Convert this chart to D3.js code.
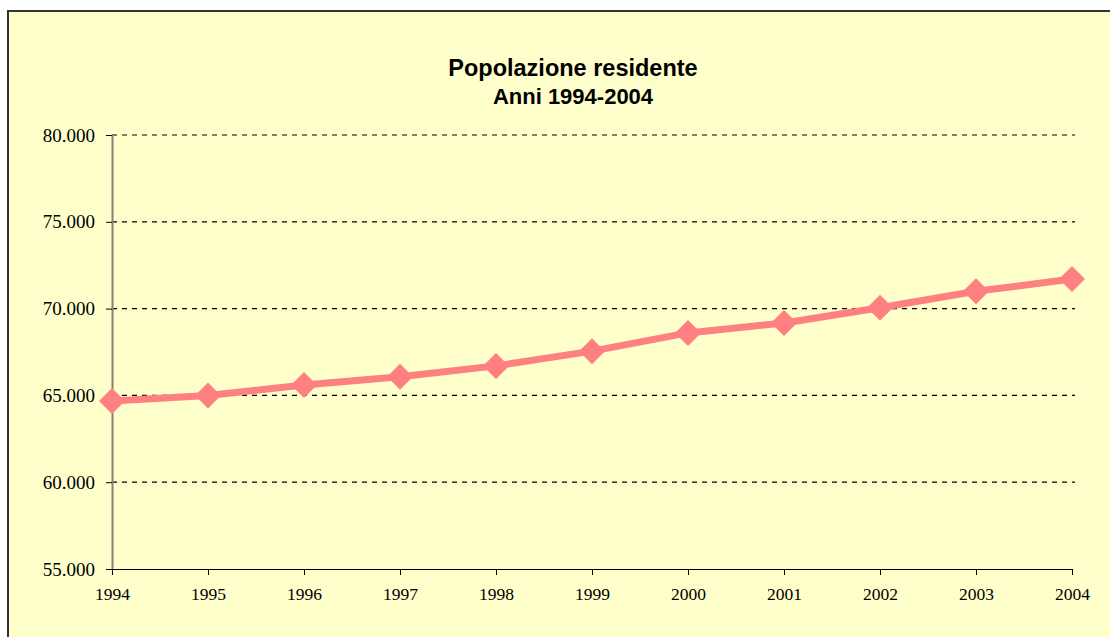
<!DOCTYPE html>
<html>
<head>
<meta charset="utf-8">
<script src="https://cdn.jsdelivr.net/npm/d3@7"></script>
<style>
  body { margin: 0; background: #ffffff; }
  .tick text { font-family: "Liberation Serif", "Times New Roman", serif; fill: #000; }
</style>
</head>
<body>
<div id="chart"></div>
<script>
// Define svg width and height
var svgWidth = 1110;
var svgHeight = 637;

// chart data
var years = [1994, 1995, 1996, 1997, 1998, 1999, 2000, 2001, 2002, 2003, 2004];
var population = [64680, 65000, 65600, 66080, 66700, 67550, 68600, 69170, 70050, 71000, 71700];
var yTicks = [55000, 60000, 65000, 70000, 75000, 80000];
var titleLines = ["Popolazione residente", "Anni 1994-2004"];

// plot area
var margin = { top: 135, right: 38, bottom: 68, left: 112 };
var width = svgWidth - margin.left - margin.right;
var height = svgHeight - margin.top - margin.bottom;

var svg = d3.select("#chart")
  .append("svg")
  .attr("width", svgWidth)
  .attr("height", svgHeight);

// background with border (cropped at right / bottom)
svg.append("rect")
  .attr("x", 8)
  .attr("y", 11)
  .attr("width", svgWidth + 10)
  .attr("height", svgHeight + 10)
  .attr("fill", "#ffffcc")
  .attr("stroke", "#333333")
  .attr("stroke-width", 2);

// title
svg.append("g").selectAll("text")
  .data(titleLines)
  .enter()
  .append("text")
  .attr("x", 573)
  .attr("y", (d, i) => i === 0 ? 76 : 104)
  .attr("text-anchor", "middle")
  .style("font-family", "'Liberation Sans', Arial, sans-serif")
  .style("font-weight", "bold")
  .style("font-size", (d, i) => i === 0 ? "23.5px" : "22px")
  .text(d => d);

var chartGroup = svg.append("g")
  .attr("transform", `translate(${margin.left}, ${margin.top})`);

// scales
var xScale = d3.scaleLinear()
  .domain([d3.min(years), d3.max(years)])
  .range([0, width]);

var yScale = d3.scaleLinear()
  .domain([55000, 80000])
  .range([height, 0]);

var fmt = d3.formatLocale({ decimal: ",", thousands: ".", grouping: [3], currency: ["", "€"] }).format(",");

// gridlines
chartGroup.append("g")
  .selectAll("line")
  .data(yTicks.filter(d => d > 55000))
  .enter()
  .append("line")
  .attr("x1", 0)
  .attr("x2", width + 3)
  .attr("y1", d => yScale(d))
  .attr("y2", d => yScale(d))
  .attr("stroke", "#000")
  .attr("stroke-width", 1.2)
  .attr("stroke-dasharray", "5,5");

// y axis
var leftAxis = d3.axisLeft(yScale)
  .tickValues(yTicks)
  .tickSize(6)
  .tickPadding(11)
  .tickFormat(fmt);

var yAxis = chartGroup.append("g")
  .call(leftAxis);
yAxis.select(".domain").attr("stroke", "#808080").attr("stroke-width", 2)
  .attr("d", `M0.5,0V${height}`);
yAxis.selectAll(".tick line").attr("stroke", "#000");
yAxis.selectAll(".tick text").style("font-size", "19px");

// x axis
var bottomAxis = d3.axisBottom(xScale)
  .tickValues(years)
  .tickSize(6)
  .tickPadding(13)
  .tickFormat(d3.format("d"));

var xAxis = chartGroup.append("g")
  .attr("transform", `translate(0, ${height})`)
  .call(bottomAxis);
xAxis.select(".domain").attr("stroke", "#000").attr("d", `M0,0.5H${width}`);
xAxis.selectAll(".tick line").attr("stroke", "#000");
xAxis.selectAll(".tick text").style("font-size", "17.5px");

// line
var line = d3.line()
  .x((d, i) => xScale(years[i]))
  .y(d => yScale(d));

chartGroup.append("path")
  .datum(population)
  .attr("d", line)
  .attr("fill", "none")
  .attr("stroke", "#ff8080")
  .attr("stroke-width", 7)
  .attr("stroke-linejoin", "round");

// diamond markers
var diamond = d3.symbol().type(d3.symbolSquare).size(338);

chartGroup.selectAll(null)
  .data(population)
  .enter()
  .append("path")
  .attr("d", diamond)
  .attr("transform", (d, i) => `translate(${xScale(years[i])}, ${yScale(d)}) rotate(45)`)
  .attr("fill", "#ff8080");
</script>
</body>
</html>
